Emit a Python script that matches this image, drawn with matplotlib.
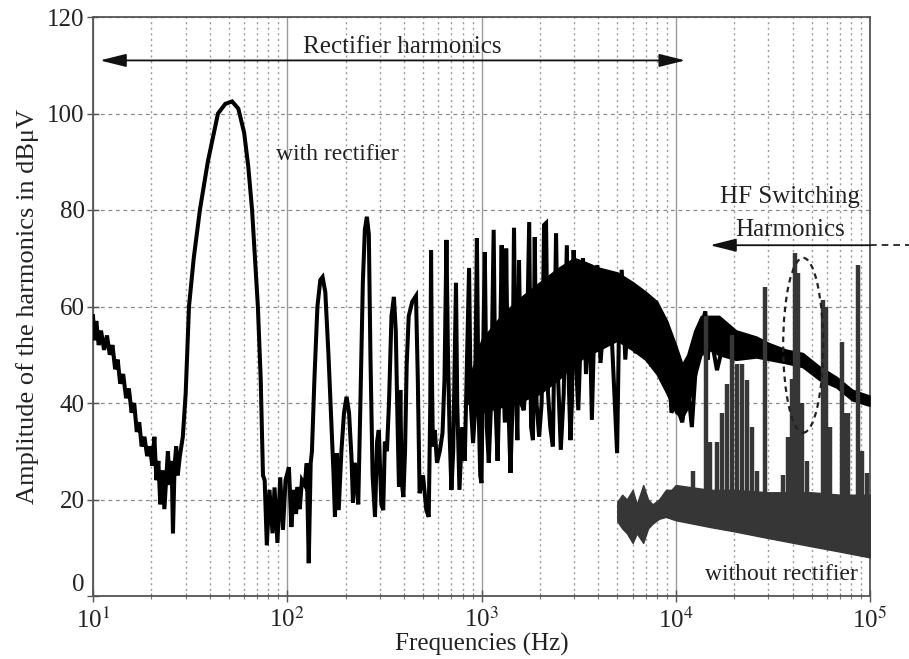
import numpy as np
import matplotlib
matplotlib.use('Agg')
import matplotlib.pyplot as plt
from matplotlib.patches import Ellipse
from matplotlib.ticker import FixedLocator, FixedFormatter, LogLocator, NullFormatter

plt.rcParams['font.family'] = ['Liberation Serif', 'DejaVu Serif']
plt.rcParams['mathtext.fontset'] = 'stix'

# with rectifier: main trace (Hz, dBuV)
rect_f = [10.0, 10.2, 10.4, 10.7, 11.0, 11.4, 11.8, 12.2, 12.6, 13.0, 13.4, 13.8, 14.3, 14.8,
          15.3, 15.8, 16.3, 16.8, 17.3, 17.8, 18.4, 19.0, 19.6, 20.2, 20.7, 21.2, 21.7, 22.2,
          22.8, 23.3, 23.8, 24.3, 24.8, 25.4, 25.8, 26.3, 26.8, 27.3, 28.0, 29.0, 30.0, 31.2,
          33, 35.5, 39, 44, 48, 52, 56, 60, 63, 65.9, 70.6, 73, 75, 76.5, 78.5, 81, 84, 86, 89,
          92, 95, 98, 102, 105, 108, 111, 113, 116, 119, 123, 126, 129, 132, 134, 138, 143, 148,
          152, 157, 163, 170, 173, 176, 180, 184, 190, 196, 202, 208, 214, 218, 222, 226, 232,
          238, 245, 251, 257, 263, 268, 275, 283, 290, 296, 305, 312, 318, 326, 334, 344, 354,
          362, 370, 376, 382, 388, 396, 404, 412, 422, 440, 460, 470, 480, 500, 520, 535, 545,
          550, 556, 562, 575, 590, 610, 630, 645, 660, 672, 685, 700, 715, 739, 750, 770, 795,
          820, 863, 880, 905, 925, 947, 965, 985, 1000, 1015, 1040, 1065, 1090, 1120, 1155,
          1180, 1210, 1240, 1270, 1290, 1320, 1340, 1370, 1410, 1440, 1470, 1500, 1530, 1560,
          1600, 1650, 1700, 1760, 1800, 1840, 1880, 1920, 1980, 2040, 2100, 2150, 2200, 2260,
          2330, 2420, 2480, 2560, 2650, 2750, 2810, 2870, 2920, 2980, 3050, 3150, 3250, 3330,
          3450, 3600, 3700, 3800, 3950, 4100, 4300, 4500, 4700, 4990, 5100, 5270, 5500, 5800,
          6200, 6600, 7100, 7500, 8000, 8500, 9000, 9500, 10000, 10800, 11500, 12100, 12800,
          13600, 14200, 14600, 15000, 16300, 17500]
rect_a = [58, 53, 57, 52, 55, 51, 54, 50, 52, 47, 49, 44, 46, 41,
          43, 38, 40, 34, 36, 31, 33, 29, 31, 27, 33, 24, 28, 19,
          26, 18, 24, 30, 23, 28, 13, 27, 31, 25, 29, 33, 42, 60,
          70, 80, 90, 100, 102, 102.5, 101, 96, 89, 80, 60, 45, 25, 24, 10.5, 22, 13, 22.5, 11,
          24.6, 13.7, 24, 26.7, 14.3, 22, 17, 22.6, 18, 24, 23, 27.5, 6.8, 27.5, 30, 45, 60, 65.5,
          66.1, 63, 50, 33, 25.5, 16.4, 29.6, 17.8, 30, 38, 41.3, 38, 29, 19.3, 27.6, 25, 19,
          40, 65, 76, 78.6, 75, 50, 25, 16.4, 32, 34.4, 19, 17.8, 32, 30, 40, 58, 62,
          55, 35, 22.6, 42.7, 24, 20.5, 30, 48, 58, 61, 62.2, 45, 21.3, 25, 17.8, 16.4, 40,
          71.7, 45, 31, 34.4, 27.6, 30, 33.8, 45, 73.8, 50, 33.8, 22, 30, 64.9, 40, 22, 35,
          28, 68, 40, 31.7, 38, 74.2, 40, 25, 23.4, 45, 71.3, 35, 27.6, 40, 75.9,
          40, 28, 45, 72.7, 45, 36, 72, 42, 25.5, 38, 76.3, 45, 32.3, 69.6,
          40, 38.5, 45, 77.5, 35, 32.3, 74.4, 40, 33, 40, 76.9, 77.3, 42, 35,
          31, 75.2, 45, 30.3, 42, 72.7, 45, 32.3, 40, 71.7, 50, 38.5, 55, 70,
          46, 60, 36.5, 55, 68.6, 48.3, 60, 67, 52.4, 29.6, 55, 67.6, 49, 64.9,
          50.3, 63, 62, 47.5, 59.3, 46.8, 54.5, 38, 40, 36, 44, 35, 50,
          56, 59, 49, 55, 46.8, 52]

# with rectifier: dense core of the spectrum
band_f = [850, 1000, 1200, 1500, 2000, 2500, 3000, 3500, 4000, 5000, 6000, 7000,
          8000, 9000, 10000, 10800, 11500, 12500, 13500, 15000, 16700, 20400, 26000,
          30000, 37000, 45000, 55000, 67000, 81000, 99000]
band_lo = [40, 38, 39, 40, 42, 45, 48, 50, 51, 53, 51, 49, 46, 42, 38, 37, 39, 45,
           50, 51, 50, 49, 49.5, 49, 48.3, 47.5, 44.8, 43.3, 40.6, 39.5]
band_hi = [44, 53, 57, 61, 65, 68, 70, 69, 68, 67, 65, 63, 61, 57, 52, 48, 50, 55,
           58, 58, 58, 55, 53.7, 52.4, 51, 50.3, 47.5, 45.4, 42.7, 41.5]

# without rectifier: noise floor band
wo_f = [5000, 5300, 5600, 6000, 6300, 6800, 7200, 7600, 8200, 8900, 9500, 10000,
        15000, 20000, 30000, 50000, 70000, 100000]
wo_lo = [15.5, 14, 13, 11, 13, 11, 14, 15, 16, 16.4, 16, 15.7,
         14.3, 13.4, 12, 10.3, 9.2, 8]
wo_hi = [19.5, 21, 20, 22, 19, 23, 20, 19, 20, 22, 22, 23,
         22, 22, 21.5, 21.5, 21, 21]

# without rectifier: switching harmonic spikes
wo_spike_f = [12300, 14300, 15000, 16300, 17300, 18400, 19500, 20700, 21900, 23300, 24700,
              26200, 28800, 35600, 37800, 39600, 41100, 42600, 44700, 47400, 57300, 59300,
              62200, 71800, 75200, 77100, 86700, 91000, 96600]
wo_spike_a = [26, 58, 32, 32, 38, 44, 54, 48, 48, 44.8, 35, 26, 64, 25, 33, 45, 71, 67,
              40, 28, 61.3, 60, 35, 52.6, 38, 37.9, 68.6, 30, 25.5]

xtick_vals = [1e1, 1e2, 1e3, 1e4, 1e5]
xtick_labels = ['10$^{1}$', '10$^{2}$', '10$^{3}$', '10$^{4}$', '10$^{5}$']
ytick_vals = [0, 20, 40, 60, 80, 100, 120]

fig = plt.figure(figsize=(9.09, 6.59), dpi=100)
ax = fig.add_axes([93 / 909, 63 / 659, 777 / 909, 579 / 659])
ax.set_xscale('log')
ax.set_xlim(10, 1e5)
ax.set_ylim(0, 120)

# grid
ax.set_axisbelow(True)
ax.grid(True, which='major', axis='x', color='#9a9a9a', lw=1.0, ls='-')
ax.grid(True, which='minor', axis='x', color='#9a9a9a', lw=1.0, ls=(0, (1.5, 2.5)))
ax.grid(True, which='major', axis='y', color='#8a8a8a', lw=0.9, ls=(0, (3, 3)))

# with rectifier
ax.fill_between(band_f, band_lo, band_hi, color='k', lw=1.5, edgecolor='k', zorder=3)
ax.plot(rect_f, rect_a, color='k', lw=2.9, solid_joinstyle='miter', zorder=4)

# without rectifier
ax.fill_between(wo_f, wo_lo, wo_hi, color='#363636', lw=1.0, edgecolor='#363636', zorder=5)
ax.vlines(wo_spike_f, 18, wo_spike_a, color='#363636', lw=3.2, zorder=5)

# annotations
ax.annotate('', xy=(10.86, 111), xytext=(11200, 111),
            arrowprops=dict(arrowstyle='<|-|>,head_length=0.8,head_width=0.2',
                            color='#111', lw=1.3, mutation_scale=20,
                            shrinkA=0, shrinkB=0), zorder=6)
ax.text(390, 113.8, 'Rectifier harmonics', fontsize=18, ha='center', va='center', color='#222')
ax.text(182, 91.4, 'with rectifier', fontsize=17, ha='center', va='center', color='#222')
ax.text(38700, 82.7, 'HF Switching', fontsize=18, ha='center', va='center', color='#222')
ax.text(38700, 75.9, 'Harmonics', fontsize=18, ha='center', va='center', color='#222')
ax.annotate('', xy=(15000, 72.7), xytext=(1e5, 72.7),
            arrowprops=dict(arrowstyle='-|>,head_length=0.8,head_width=0.2',
                            color='#111', lw=1.3, mutation_scale=20,
                            shrinkA=0, shrinkB=0), zorder=6)
ax.plot([1.0, 1.06], [72.7 / 120, 72.7 / 120], transform=ax.transAxes, color='#111',
        lw=1.2, ls=(0, (4, 3)), clip_on=False)
ax.add_patch(Ellipse((0.914, 0.433), 0.0515, 0.302, transform=ax.transAxes, fill=False,
                     ec='#222', lw=1.6, ls=(0, (2.5, 2)), zorder=7))
ax.text(34800, 4.5, 'without rectifier', fontsize=17, ha='center', va='center', color='#222')

# axes
ax.xaxis.set_major_locator(FixedLocator(xtick_vals))
ax.xaxis.set_major_formatter(FixedFormatter(xtick_labels))
ax.xaxis.set_minor_locator(LogLocator(base=10, subs=np.arange(2, 10)))
ax.xaxis.set_minor_formatter(NullFormatter())
ax.set_yticks(ytick_vals)
ax.tick_params(axis='both', which='major', direction='inout', length=8, width=1,
               labelsize=18, colors='#555', labelcolor='#222', pad=2)
ax.tick_params(axis='x', which='major', pad=4)
ax.tick_params(axis='x', which='minor', direction='inout', length=5, width=0.8, colors='#777')
for s in ax.spines.values():
    s.set_color('#555')
    s.set_linewidth(1.3)
# lift the "0" label a touch so it clears the 10^1 label below it
ax.get_yticklabels()[0].set_verticalalignment('bottom')

ax.set_xlabel('Frequencies (Hz)', fontsize=18, color='#222', labelpad=0)
ax.set_ylabel('Amplitude of the harmonics in dB\u03bcV', fontsize=19, color='#222', labelpad=6)

fig.savefig('out.png', dpi=100, facecolor='white')
